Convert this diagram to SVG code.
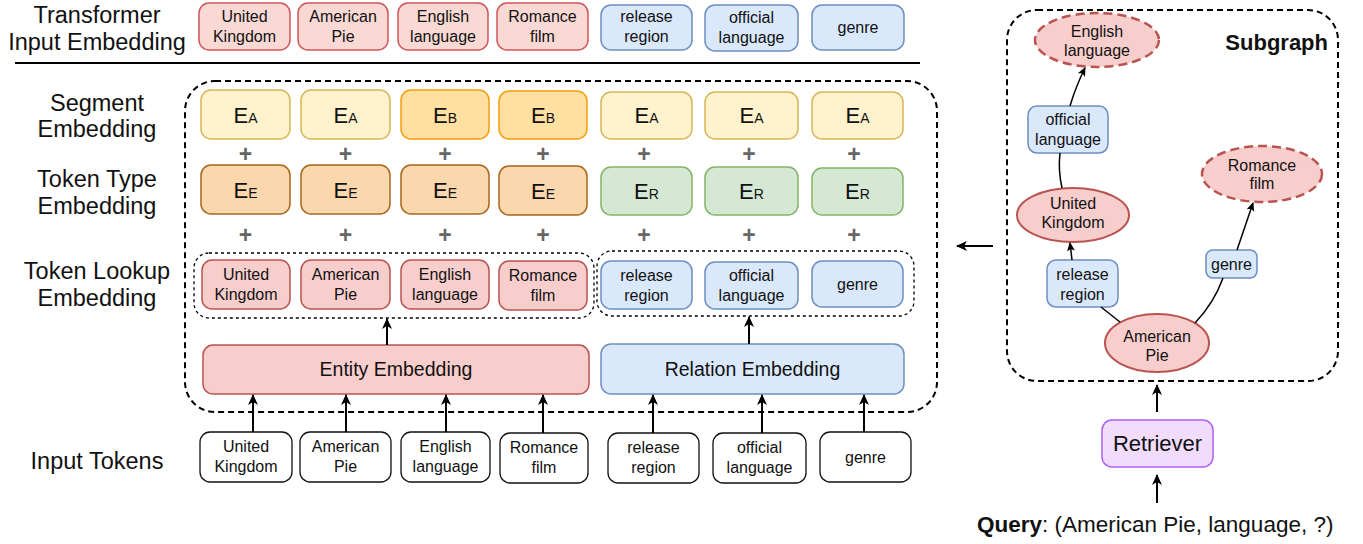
<svg xmlns="http://www.w3.org/2000/svg" width="1363" height="544" viewBox="0 0 1363 544">
<style>
text{font-family:"Liberation Sans",Arial,sans-serif;fill:#111;}
.lbl{font-size:23.5px;text-anchor:middle;}
.t{font-size:16px;text-anchor:middle;}
.big{font-size:19.5px;text-anchor:middle;}
.plus{font-size:23px;font-weight:bold;fill:#666;text-anchor:middle;}
.e{text-anchor:middle;}
.red{fill:#f8cecc;stroke:#b85450;stroke-width:1.5;}
.redtop{fill:#fad9d5;stroke:#d0565a;stroke-width:1.5;}
.blue{fill:#dae8fc;stroke:#6c8ebf;stroke-width:1.5;}
.segA{fill:#fff2cc;stroke:#d6b656;stroke-width:1.5;}
.segB{fill:#ffe0a0;stroke:#f59d0b;stroke-width:1.5;}
.typE{fill:#fad7ac;stroke:#a8651b;stroke-width:1.5;}
.typR{fill:#d5e8d4;stroke:#82b366;stroke-width:1.5;}
.inp{fill:#fff;stroke:#111;stroke-width:1.3;}
.arr{stroke:#000;stroke-width:2;fill:none;marker-end:url(#ah);}
.sarr{stroke:#000;stroke-width:1.5;fill:none;marker-end:url(#sah);}
.sline{stroke:#000;stroke-width:1.5;fill:none;}
.bigdash{fill:none;stroke:#000;stroke-width:2;stroke-dasharray:6 4;}
.smalldash{fill:none;stroke:#000;stroke-width:1.3;stroke-dasharray:3 3;}
.ell{fill:#f8cecc;stroke:#b85450;stroke-width:2;}
.ellD{fill:#f8cecc;stroke:#b85450;stroke-width:2.5;stroke-dasharray:9 5;}
</style>
<defs>
<marker id="ah" markerUnits="userSpaceOnUse" markerWidth="12" markerHeight="12" refX="10" refY="6" orient="auto">
<path d="M0,1 L11,6 L0,11 L3,6 z" fill="#000"/>
</marker>
<marker id="sah" markerUnits="userSpaceOnUse" markerWidth="10" markerHeight="10" refX="8" refY="5" orient="auto">
<path d="M0,1 L9,5 L0,9 L2,5 z" fill="#000"/>
</marker>
</defs>

<g id="row-labels">
<text class="lbl" x="97" y="23">Transformer</text>
<text class="lbl" x="97" y="50">Input Embedding</text>
<text class="lbl" x="97" y="111">Segment</text>
<text class="lbl" x="97" y="137">Embedding</text>
<text class="lbl" x="97" y="187">Token Type</text>
<text class="lbl" x="97" y="214">Embedding</text>
<text class="lbl" x="97" y="279">Token Lookup</text>
<text class="lbl" x="97" y="306">Embedding</text>
<text class="lbl" x="97" y="469">Input Tokens</text>
</g>
<line x1="15" y1="63" x2="920" y2="63" stroke="#000" stroke-width="2.2"/>

<g id="transformer-input">
<rect class="redtop" x="199" y="3" width="91" height="47" rx="10"/>
<text class="t" x="244.5" y="22">United</text><text class="t" x="244.5" y="42">Kingdom</text>
<rect class="redtop" x="298" y="3" width="90" height="47" rx="10"/>
<text class="t" x="343" y="22">American</text><text class="t" x="343" y="42">Pie</text>
<rect class="redtop" x="398" y="3" width="90" height="47" rx="10"/>
<text class="t" x="443" y="22">English</text><text class="t" x="443" y="42">language</text>
<rect class="redtop" x="497" y="3" width="91" height="47" rx="10"/>
<text class="t" x="542.5" y="22">Romance</text><text class="t" x="542.5" y="42">film</text>
<rect class="blue" x="601" y="5" width="91" height="45" rx="10"/>
<text class="t" x="646.5" y="22">release</text><text class="t" x="646.5" y="42">region</text>
<rect class="blue" x="705" y="5" width="93" height="46" rx="10"/>
<text class="t" x="751.5" y="23">official</text><text class="t" x="751.5" y="43">language</text>
<rect class="blue" x="812" y="5" width="92" height="45" rx="10"/>
<text class="t" x="858" y="33">genre</text>
</g>

<g id="embedding-block">
<rect class="bigdash" x="185" y="81" width="752" height="331" rx="30"/>
</g>

<g id="segment-embedding">
<rect class="segA" x="201" y="90" width="89" height="49" rx="10"/>
<text class="e" x="245.5" y="123"><tspan font-size="22">E</tspan><tspan font-size="14">A</tspan></text>
<rect class="segA" x="301" y="90" width="89" height="49" rx="10"/>
<text class="e" x="345.5" y="123"><tspan font-size="22">E</tspan><tspan font-size="14">A</tspan></text>
<rect class="segB" x="401" y="90" width="88" height="49" rx="10"/>
<text class="e" x="445" y="123"><tspan font-size="22">E</tspan><tspan font-size="14">B</tspan></text>
<rect class="segB" x="499" y="91" width="88" height="48" rx="10"/>
<text class="e" x="543" y="123"><tspan font-size="22">E</tspan><tspan font-size="14">B</tspan></text>
<rect class="segA" x="601" y="92" width="91" height="47" rx="10"/>
<text class="e" x="646.5" y="123"><tspan font-size="22">E</tspan><tspan font-size="14">A</tspan></text>
<rect class="segA" x="705" y="92" width="93" height="47" rx="10"/>
<text class="e" x="751.5" y="123"><tspan font-size="22">E</tspan><tspan font-size="14">A</tspan></text>
<rect class="segA" x="812" y="92" width="91" height="47" rx="10"/>
<text class="e" x="857.5" y="123"><tspan font-size="22">E</tspan><tspan font-size="14">A</tspan></text>
</g>

<g id="plus-signs">
<text class="plus" x="245.5" y="162">+</text><text class="plus" x="345.5" y="162">+</text><text class="plus" x="445" y="162">+</text><text class="plus" x="543" y="162">+</text><text class="plus" x="644" y="162">+</text><text class="plus" x="749" y="162">+</text><text class="plus" x="854" y="162">+</text>
<text class="plus" x="245.5" y="243">+</text><text class="plus" x="345.5" y="243">+</text><text class="plus" x="445" y="243">+</text><text class="plus" x="543" y="243">+</text><text class="plus" x="644" y="243">+</text><text class="plus" x="749" y="243">+</text><text class="plus" x="854" y="243">+</text>
</g>

<g id="token-type-embedding">
<rect class="typE" x="201" y="165" width="89" height="49" rx="10"/>
<text class="e" x="245.5" y="198"><tspan font-size="22">E</tspan><tspan font-size="14">E</tspan></text>
<rect class="typE" x="301" y="165" width="89" height="49" rx="10"/>
<text class="e" x="345.5" y="198"><tspan font-size="22">E</tspan><tspan font-size="14">E</tspan></text>
<rect class="typE" x="401" y="165" width="88" height="49" rx="10"/>
<text class="e" x="445" y="198"><tspan font-size="22">E</tspan><tspan font-size="14">E</tspan></text>
<rect class="typE" x="499" y="166" width="88" height="49" rx="10"/>
<text class="e" x="543" y="199"><tspan font-size="22">E</tspan><tspan font-size="14">E</tspan></text>
<rect class="typR" x="601" y="167" width="91" height="48" rx="10"/>
<text class="e" x="646.5" y="199"><tspan font-size="22">E</tspan><tspan font-size="14">R</tspan></text>
<rect class="typR" x="705" y="167" width="93" height="48" rx="10"/>
<text class="e" x="751.5" y="199"><tspan font-size="22">E</tspan><tspan font-size="14">R</tspan></text>
<rect class="typR" x="812" y="168" width="91" height="47" rx="10"/>
<text class="e" x="857.5" y="199"><tspan font-size="22">E</tspan><tspan font-size="14">R</tspan></text>
</g>

<g id="token-lookup-entities">
<rect class="smalldash" x="194" y="253" width="400" height="65" rx="15"/>
<rect class="red" x="202" y="260" width="88" height="49" rx="10"/>
<text class="t" x="246" y="280">United</text><text class="t" x="246" y="300">Kingdom</text>
<rect class="red" x="301" y="260" width="89" height="49" rx="10"/>
<text class="t" x="345.5" y="280">American</text><text class="t" x="345.5" y="300">Pie</text>
<rect class="red" x="401" y="260" width="88" height="49" rx="10"/>
<text class="t" x="445" y="280">English</text><text class="t" x="445" y="300">language</text>
<rect class="red" x="499" y="261" width="88" height="49" rx="10"/>
<text class="t" x="543" y="281">Romance</text><text class="t" x="543" y="301">film</text>
</g>

<g id="token-lookup-relations">
<rect class="smalldash" x="597" y="251" width="317" height="65" rx="15"/>
<rect class="blue" x="601" y="261" width="91" height="48" rx="10"/>
<text class="t" x="646.5" y="281">release</text><text class="t" x="646.5" y="301">region</text>
<rect class="blue" x="705" y="262" width="93" height="47" rx="10"/>
<text class="t" x="751.5" y="281">official</text><text class="t" x="751.5" y="301">language</text>
<rect class="blue" x="812" y="261" width="91" height="46" rx="10"/>
<text class="t" x="857.5" y="290">genre</text>
</g>

<g id="entity-embedding">
<rect class="red" x="203" y="345" width="386" height="49" rx="10"/>
<text class="big" x="396" y="376">Entity Embedding</text>
</g>
<g id="relation-embedding">
<rect class="blue" x="601" y="344" width="303" height="50" rx="10"/>
<text class="big" x="752.5" y="376">Relation Embedding</text>
</g>

<g id="input-tokens">
<rect class="inp" x="200" y="432" width="92" height="50" rx="10"/>
<text class="t" x="246" y="452">United</text><text class="t" x="246" y="472">Kingdom</text>
<rect class="inp" x="300" y="432" width="91" height="50" rx="10"/>
<text class="t" x="345.5" y="452">American</text><text class="t" x="345.5" y="472">Pie</text>
<rect class="inp" x="401" y="432" width="89" height="50" rx="10"/>
<text class="t" x="445.5" y="452">English</text><text class="t" x="445.5" y="472">language</text>
<rect class="inp" x="500" y="433" width="88" height="50" rx="10"/>
<text class="t" x="544" y="453">Romance</text><text class="t" x="544" y="473">film</text>
<rect class="inp" x="608" y="433" width="91" height="50" rx="10"/>
<text class="t" x="653.5" y="453">release</text><text class="t" x="653.5" y="473">region</text>
<rect class="inp" x="713" y="433" width="93" height="50" rx="10"/>
<text class="t" x="759.5" y="453">official</text><text class="t" x="759.5" y="473">language</text>
<rect class="inp" x="820" y="432" width="91" height="50" rx="10"/>
<text class="t" x="865.5" y="463">genre</text>
</g>

<g id="subgraph">
<rect class="bigdash" x="1007" y="10" width="331" height="371" rx="30"/>
<text x="1328" y="50" font-size="22" font-weight="bold" text-anchor="end">Subgraph</text>
</g>
<g id="sg-english-language">
<ellipse class="ellD" cx="1097" cy="40" rx="62" ry="27"/>
<text class="t" x="1097" y="37">English</text><text class="t" x="1097" y="56">language</text>
</g>
<g id="sg-official-language">
<rect class="blue" x="1028" y="106" width="80" height="47" rx="9"/>
<text class="t" x="1068" y="125">official</text><text class="t" x="1068" y="145">language</text>
</g>
<g id="sg-romance-film">
<ellipse class="ellD" cx="1262" cy="174" rx="60" ry="28"/>
<text class="t" x="1262" y="171">Romance</text><text class="t" x="1262" y="189">film</text>
</g>
<g id="sg-united-kingdom">
<ellipse class="ell" cx="1073" cy="215" rx="56" ry="27"/>
<text class="t" x="1073" y="209">United</text><text class="t" x="1073" y="228">Kingdom</text>
</g>
<g id="sg-release-region">
<rect class="blue" x="1047" y="260" width="71" height="47" rx="9"/>
<text class="t" x="1082.5" y="280">release</text><text class="t" x="1082.5" y="300">region</text>
</g>
<g id="sg-genre">
<rect class="blue" x="1206" y="250" width="51" height="28" rx="7"/>
<text class="t" x="1231.5" y="270">genre</text>
</g>
<g id="sg-american-pie">
<ellipse class="ell" cx="1157" cy="343" rx="52" ry="29"/>
<text class="t" x="1157" y="342">American</text><text class="t" x="1157" y="361">Pie</text>
</g>
<g id="retriever">
<rect x="1102" y="420" width="111" height="47" rx="10" fill="#f1dcfd" stroke="#ae5ff0" stroke-width="1.5"/>
<text x="1157.5" y="451" font-size="22" text-anchor="middle">Retriever</text>
</g>
<g id="query">
<text x="977" y="532" font-size="22.5"><tspan font-weight="bold">Query</tspan>: (American Pie, language, ?)</text>
</g>

<g id="connectors">
<line class="arr" x1="387" y1="345" x2="387" y2="319"/>
<line class="arr" x1="749" y1="344" x2="749" y2="317"/>
<line class="arr" x1="253" y1="432" x2="253" y2="395"/>
<line class="arr" x1="346" y1="432" x2="346" y2="395"/>
<line class="arr" x1="446" y1="432" x2="446" y2="395"/>
<line class="arr" x1="543" y1="433" x2="543" y2="395"/>
<line class="arr" x1="653" y1="433" x2="653" y2="395"/>
<line class="arr" x1="762" y1="433" x2="762" y2="395"/>
<line class="arr" x1="864" y1="432" x2="864" y2="395"/>
<line class="arr" x1="993" y1="246" x2="957" y2="246"/>
<line class="arr" x1="1157" y1="412" x2="1157" y2="385"/>
<line class="arr" x1="1157" y1="503" x2="1157" y2="475"/>
<path class="sarr" d="M1070,106 Q1076,86 1085,68"/>
<path class="sline" d="M1062,188 Q1058,170 1060,153"/>
<path class="sarr" d="M1072,260 L1070,243"/>
<path class="sline" d="M1120,322 L1101,307"/>
<path class="sline" d="M1195,323 Q1214,303 1223,278"/>
<path class="sarr" d="M1237,250 L1253,203"/>
</g>
</svg>
